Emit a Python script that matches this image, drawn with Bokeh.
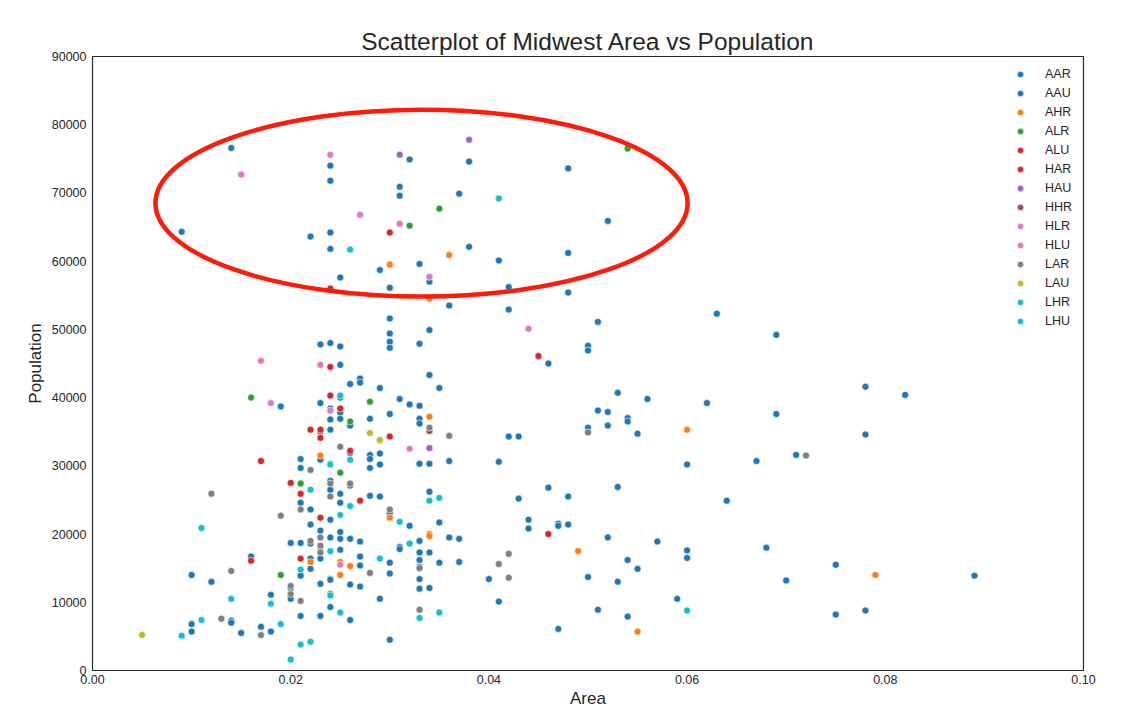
from bokeh.plotting import figure
from bokeh.models import Range1d, FixedTicker, NumeralTickFormatter, Legend, LegendItem
from bokeh.embed import file_html
from bokeh.resources import INLINE

# ---------------- data ----------------
categories = ["AAR", "AAU", "AHR", "ALR", "ALU", "HAR", "HAU", "HHR",
              "HLR", "HLU", "LAR", "LAU", "LHR", "LHU"]
colors = ["#1f77b4", "#1f77b4", "#ff7f0e", "#2ca02c", "#d62728", "#d62728",
          "#9467bd", "#8c564b", "#e377c2", "#e377c2", "#7f7f7f", "#bcbd22",
          "#17becf", "#17becf"]

aar_area = [0.032, 0.031, 0.031, 0.009, 0.022, 0.024, 0.024, 0.033, 0.029, 0.025, 0.030,
            0.037, 0.052, 0.038, 0.041, 0.048, 0.034, 0.042, 0.048, 0.036, 0.042, 0.051,
            0.034, 0.045, 0.046, 0.034, 0.035, 0.053, 0.056, 0.033, 0.051, 0.052, 0.054,
            0.054, 0.033, 0.033, 0.052, 0.050, 0.055, 0.042, 0.043, 0.033, 0.034, 0.036,
            0.041, 0.060, 0.034, 0.046, 0.048, 0.053, 0.043, 0.035, 0.044, 0.044, 0.047,
            0.047, 0.048, 0.036, 0.037, 0.033, 0.052, 0.057, 0.033, 0.034, 0.033, 0.035,
            0.037, 0.040, 0.054, 0.055, 0.050, 0.053, 0.060, 0.060, 0.033, 0.034, 0.041,
            0.059, 0.051, 0.054, 0.047,
            0.062, 0.069, 0.078, 0.082, 0.078, 0.071, 0.067, 0.064, 0.068, 0.075, 0.089,
            0.070, 0.075, 0.078,
            0.025, 0.026, 0.027, 0.027, 0.029, 0.019, 0.023, 0.025, 0.031, 0.032, 0.024,
            0.025, 0.024, 0.025, 0.026, 0.028, 0.030, 0.023, 0.024, 0.026, 0.028, 0.028,
            0.029, 0.021, 0.023, 0.028, 0.029, 0.021, 0.024, 0.026, 0.024, 0.025, 0.028,
            0.029,
            0.025, 0.021, 0.022, 0.024, 0.030, 0.032, 0.022, 0.023, 0.023, 0.022, 0.020,
            0.021, 0.024, 0.025, 0.025, 0.026, 0.027, 0.025, 0.031, 0.031, 0.016, 0.022,
            0.023, 0.027, 0.027, 0.030, 0.030, 0.033, 0.033, 0.021, 0.022, 0.010, 0.012,
            0.020, 0.020, 0.023, 0.024, 0.024, 0.026, 0.027, 0.024, 0.029, 0.018, 0.024,
            0.021, 0.023, 0.026, 0.010, 0.010, 0.014, 0.014, 0.015, 0.017, 0.018, 0.030]
aar_pop = [74900, 70900, 69600, 64300, 63600, 64200, 61800, 59600, 58700, 57600, 56100,
           69900, 65900, 62100, 60100, 61200, 57000, 56200, 55400, 53500, 52900, 51100,
           49900, 46000, 45000, 43300, 41400, 40700, 39800, 38800, 38100, 37900, 37000,
           36500, 36900, 36200, 35900, 35600, 34700, 34300, 34300, 30300, 30300, 30700,
           30600, 30200, 26200, 26800, 25500, 26900, 25200, 21700, 22100, 20800, 21500,
           21200, 21400, 19500, 19300, 19000, 19500, 18900, 17300, 17300, 16200, 15800,
           15900, 13400, 16200, 14900, 13700, 13000, 17600, 16500, 13400, 12100, 10100,
           10500, 8900, 7900, 6100,
           39200, 37600, 41600, 40400, 34600, 31600, 30700, 24900, 18000, 15500, 13900,
           13200, 8200, 8800,
           44800, 42000, 42800, 42200, 41400, 38700, 39200, 40000, 39800, 39000, 38400,
           37800, 36800, 36900, 35900, 36900, 37600, 35000, 35300, 31900, 31600, 31000,
           31800, 31000, 30900, 29700, 30200, 29700, 27800, 27100, 26500, 25900, 25600,
           25500,
           24600, 24600, 23600, 22100, 23100, 21200, 21400, 20500, 18000, 18600, 18700,
           18700, 19500, 20300, 19300, 19300, 18900, 17700, 18100, 17800, 16700, 16400,
           16400, 16700, 15400, 15800, 14200, 15200, 12000, 13900, 14900, 14000, 13000,
           12100, 10500, 12700, 13400, 13300, 12600, 12300, 11200, 10500, 11100, 9300,
           8000, 8000, 7400, 6800, 5700, 7300, 7000, 5500, 6400, 5700, 4500]

aau_area = [0.014, 0.024, 0.024, 0.038, 0.048, 0.033, 0.050, 0.050, 0.063, 0.069,
            0.030, 0.030, 0.030, 0.030, 0.023, 0.024, 0.025]
aau_pop = [76600, 74000, 71800, 74600, 73600, 47900, 47600, 46900, 52300, 49200,
           51600, 49400, 48200, 47300, 47800, 48000, 47500]

ahr_area = [0.030, 0.036, 0.034, 0.034, 0.060, 0.049, 0.034, 0.034, 0.055, 0.079,
            0.023, 0.030, 0.022, 0.025, 0.025, 0.026]
ahr_pop = [59500, 60900, 54500, 37200, 35300, 17500, 20000, 19700, 5700, 14000,
           31500, 22400, 15900, 15900, 14000, 15300]

alr_area = [0.054, 0.035, 0.032, 0.016, 0.028, 0.026, 0.029, 0.024, 0.025, 0.021, 0.019]
alr_pop = [76500, 67700, 65200, 40000, 39400, 36500, 33700, 30300, 29000, 27400, 14000]

alu_area = [0.030, 0.024, 0.045, 0.046, 0.024, 0.024]
alu_pop = [64200, 56000, 46100, 20000, 44500, 40300]

har_area = [0.025, 0.022, 0.023, 0.023, 0.030, 0.026, 0.017, 0.020, 0.021, 0.023,
            0.027, 0.016, 0.021]
har_pop = [38400, 35300, 35300, 34100, 34300, 32200, 30700, 27500, 25900, 22400,
           24900, 16100, 16400]

hau_area = [0.031, 0.038, 0.034]
hau_pop = [75600, 77800, 32600]

hhr_area = [0.034]
hhr_pop = [35100]

hlr_area = [0.015, 0.017, 0.018, 0.025, 0.032, 0.044]
hlr_pop = [72700, 45400, 39200, 15500, 32500, 50100]

hlu_area = [0.024, 0.027, 0.031, 0.034, 0.023, 0.024]
hlu_pop = [75600, 66800, 65500, 57700, 44800, 38100]

lar_area = [0.050, 0.034, 0.036, 0.072, 0.042, 0.041, 0.042, 0.033, 0.033, 0.025,
            0.022, 0.024, 0.026, 0.012, 0.024, 0.021, 0.019, 0.030, 0.023, 0.023,
            0.023, 0.022, 0.028, 0.014, 0.020, 0.020, 0.021, 0.013, 0.017]
lar_pop = [34900, 35600, 34400, 31500, 17100, 15600, 13600, 15000, 8900, 32800,
           29400, 27400, 27400, 25900, 25500, 23600, 22700, 23600, 19500, 18300,
           17300, 19000, 14300, 14600, 12400, 11200, 10200, 7600, 5200]

lau_area = [0.028, 0.029, 0.005]
lau_pop = [34800, 33800, 5200]

lhr_area = [0.026, 0.041, 0.034, 0.035, 0.060, 0.033, 0.035, 0.025, 0.024, 0.026,
            0.022, 0.026, 0.025, 0.031]
lhr_pop = [61700, 69200, 24900, 25300, 8800, 7700, 8500, 40300, 30200, 30900,
           26500, 24100, 22800, 21800]

lhu_area = [0.024, 0.032, 0.029, 0.021, 0.024, 0.018, 0.014, 0.011, 0.025, 0.011,
            0.019, 0.009, 0.021, 0.022, 0.020]
lhu_pop = [17500, 18600, 16400, 14800, 11000, 9800, 10500, 20900, 8500, 7400,
           6800, 5100, 3800, 4200, 1600]

series_area = [aar_area, aau_area, ahr_area, alr_area, alu_area, har_area, hau_area,
               hhr_area, hlr_area, hlu_area, lar_area, lau_area, lhr_area, lhu_area]
series_pop = [aar_pop, aau_pop, ahr_pop, alr_pop, alu_pop, har_pop, hau_pop,
              hhr_pop, hlr_pop, hlu_pop, lar_pop, lau_pop, lhr_pop, lhu_pop]

x_ticks = [0.0, 0.02, 0.04, 0.06, 0.08, 0.10]
y_ticks = [0, 10000, 20000, 30000, 40000, 50000, 60000, 70000, 80000, 90000]

# encircled region (annotation)
circle_x, circle_y, circle_w, circle_h = 0.0332, 68500, 0.0537, 27400

# ---------------- figure ----------------
FONT = "Liberation Sans"
TXT = "#262626"

p = figure(width=1130, height=716, output_backend="svg", toolbar_location=None,
           x_range=Range1d(0, 0.10), y_range=Range1d(0, 90000),
           min_border_left=92, min_border_right=47, min_border_top=56,
           min_border_bottom=46,
           title="Scatterplot of Midwest Area vs Population")

p.title.align = "center"
p.title.text_font = FONT
p.title.text_font_size = "24.5px"
p.title.text_font_style = "normal"
p.title.text_color = TXT
p.title.standoff = 4

p.background_fill_color = "white"
p.border_fill_color = "white"
p.outline_line_color = TXT
p.outline_line_width = 1.2
p.xgrid.visible = False
p.ygrid.visible = False

p.xaxis.ticker = FixedTicker(ticks=x_ticks)
p.yaxis.ticker = FixedTicker(ticks=y_ticks)
p.xaxis.formatter = NumeralTickFormatter(format="0.00")
p.yaxis.formatter = NumeralTickFormatter(format="0")
p.xaxis.axis_label = "Area"
p.yaxis.axis_label = "Population"
for ax in (p.xaxis, p.yaxis):
    ax.axis_line_color = None
    ax.major_tick_line_color = None
    ax.minor_tick_line_color = None
    ax.major_tick_out = 0
    ax.major_tick_in = 0
    ax.minor_tick_out = 0
    ax.minor_tick_in = 0
    ax.major_label_text_font = FONT
    ax.major_label_text_font_size = "12.5px"
    ax.major_label_text_color = TXT
    ax.axis_label_text_font = FONT
    ax.axis_label_text_font_size = "17px"
    ax.axis_label_text_font_style = "normal"
    ax.axis_label_text_color = TXT
p.xaxis.major_label_standoff = 4
p.xaxis.axis_label_standoff = 2
p.yaxis.major_label_standoff = 6
p.yaxis.axis_label_standoff = 4

items = []
for name, col, xs, ys in zip(categories, colors, series_area, series_pop):
    r = p.scatter(x=xs, y=ys, size=7, fill_color=col, line_color="white",
                  line_width=0.6, fill_alpha=1.0)
    items.append(LegendItem(label=name, renderers=[r]))

p.ellipse(x=[circle_x], y=[circle_y], width=[circle_w], height=[circle_h],
          fill_color=None, line_color="#ff1a0a", line_width=4.5)

legend = Legend(items=items, location="top_right")
legend.background_fill_alpha = 0
legend.border_line_color = None
legend.label_text_font = FONT
legend.label_text_font_size = "12.5px"
legend.label_text_color = TXT
legend.glyph_width = 20
legend.glyph_height = 16
legend.label_height = 16
legend.label_width = 28
legend.label_standoff = 15
legend.spacing = 3
legend.padding = 5
legend.margin = 10
p.add_layout(legend, "center")

open("out.html", "w").write(file_html(p, INLINE))
